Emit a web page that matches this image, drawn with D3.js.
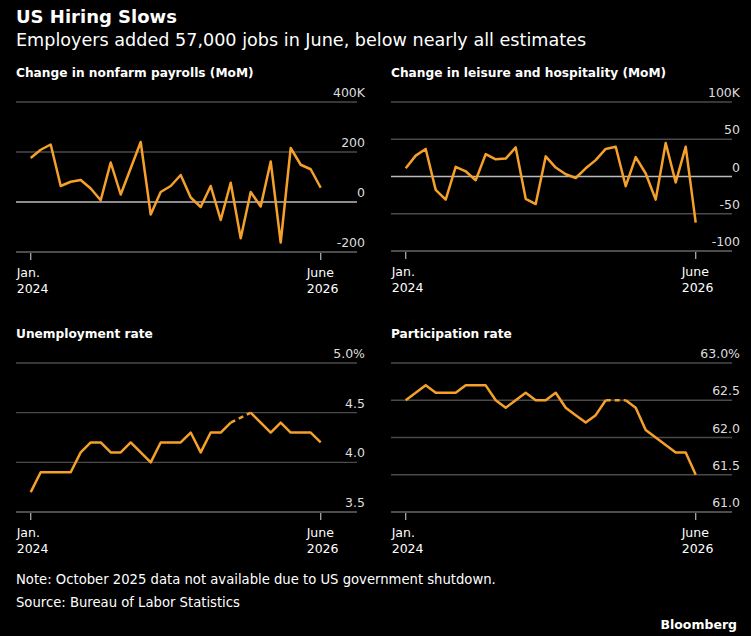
<!DOCTYPE html>
<html><head><meta charset="utf-8">
<script src="https://cdn.jsdelivr.net/npm/d3@7"></script>
<style>body{margin:0;background:#000}svg{display:block}text{font-family:"DejaVu Sans",sans-serif}</style>
</head><body><svg id="c" width="751" height="636"></svg>
<script>
const months = d3.range(30); // Jan 2024 .. June 2026
const payrolls = [176,209,230,64,81,88,54,7,158,30,135,240,-50,40,64,108,18,-20,64,-72,77,-145,40,-18,162,-162,216,149,131,57];
const leisure = [11,28,37,-18,-31,13,7,-5,30,23,24,39,-30,-37,27,12,3,-2,11,22,37,40,-13,26,4,-31,45,-8,40,-62];
const unemployment = [3.7,3.9,3.9,3.9,3.9,4.1,4.2,4.2,4.1,4.1,4.2,4.1,4.0,4.2,4.2,4.2,4.3,4.1,4.3,4.3,4.4,null,4.5,4.4,4.3,4.4,4.3,4.3,4.3,4.2];
const participation = [62.5,62.6,62.7,62.6,62.6,62.6,62.7,62.7,62.7,62.5,62.4,62.5,62.6,62.5,62.5,62.6,62.4,62.3,62.2,62.3,62.5,null,62.5,62.4,62.1,62.0,61.9,61.8,61.8,61.5];
const payTicks = [-200,0,200,400], payLabels = ["-200","0","200","400K"];
const leiTicks = [-100,-50,0,50,100], leiLabels = ["-100","-50","0","50","100K"];
const unTicks = [3.5,4.0,4.5,5.0], unLabels = ["3.5","4.0","4.5","5.0%"];
const parTicks = [61,61.5,62,62.5,63], parLabels = ["61.0","61.5","62.0","62.5","63.0%"];

const svg = d3.select("#c");
const orange = "#f5a02a";
svg.append("text").attr("x",16).attr("y",23).attr("fill","#fff").attr("font-size",18).attr("font-weight","bold").text("US Hiring Slows");
svg.append("text").attr("x",16).attr("y",46).attr("fill","#fff").attr("font-size",17.6).text("Employers added 57,000 jobs in June, below nearly all estimates");

function panel(ox, top, bottom, title, data, ticks, labels, dom){
  const g = svg.append("g");
  g.append("text").attr("x",ox+16).attr("y",top-25).attr("fill","#fff").attr("font-size",12.2).attr("font-weight","bold").text(title);
  const x = d3.scaleLinear().domain([0,29]).range([ox+30.7, ox+320.7]);
  const y = d3.scaleLinear().domain(dom).range([bottom, top]);
  ticks.forEach((t,i)=>{
    const isZero = t===0;
    g.append("line").attr("x1",ox+16).attr("x2",ox+357).attr("y1",y(t)).attr("y2",y(t))
      .attr("stroke", isZero?"#bbb":(i===0?"#666":"#4a4a4a")).attr("stroke-width",isZero?1.5:1.3);
    g.append("text").attr("x",ox+365).attr("y",y(t)-5).attr("text-anchor","end").attr("fill","#ddd").attr("font-size",12.5).text(labels[i]);
  });
  [0,29].forEach(m=>{
    g.append("line").attr("x1",x(m)).attr("x2",x(m)).attr("y1",bottom+1).attr("y2",bottom+8).attr("stroke","#aaa").attr("stroke-width",1.3);
  });
  [["Jan.","2024",0],["June","2026",29]].forEach(([a,b,m])=>{
    g.append("text").attr("x",x(m)-14).attr("y",bottom+25).attr("fill","#fff").attr("font-size",12.5).text(a);
    g.append("text").attr("x",x(m)-14).attr("y",bottom+41).attr("fill","#fff").attr("font-size",12.5).text(b);
  });
  const line = d3.line().defined(d=>d!=null).x((d,i)=>x(i)).y(d=>y(d));
  data.forEach((d,i)=>{
    if(d==null && i>0 && i<data.length-1){
      g.append("line").attr("x1",x(i-1)).attr("y1",y(data[i-1])).attr("x2",x(i+1)).attr("y2",y(data[i+1]))
        .attr("stroke",orange).attr("stroke-width",2.5).attr("stroke-dasharray","5,4");
    }
  });
  g.append("path").datum(data).attr("d",line).attr("fill","none").attr("stroke",orange).attr("stroke-width",2.5).attr("stroke-linejoin","round");
}
panel(0,102,252,"Change in nonfarm payrolls (MoM)",payrolls,payTicks,payLabels,[-200,400]);
panel(375,102,251,"Change in leisure and hospitality (MoM)",leisure,leiTicks,leiLabels,[-100,100]);
panel(0,363,512,"Unemployment rate",unemployment,unTicks,unLabels,[3.5,5.0]);
panel(375,363,512,"Participation rate",participation,parTicks,parLabels,[61,63]);

svg.append("text").attr("x",16).attr("y",584).attr("fill","#fff").attr("font-size",13.2).text("Note: October 2025 data not available due to US government shutdown.");
svg.append("text").attr("x",16).attr("y",607).attr("fill","#fff").attr("font-size",13.2).text("Source: Bureau of Labor Statistics");
svg.append("text").attr("x",737).attr("y",629).attr("text-anchor","end").attr("fill","#fff").attr("font-size",12.5).attr("font-weight","bold").text("Bloomberg");
</script></body></html>
